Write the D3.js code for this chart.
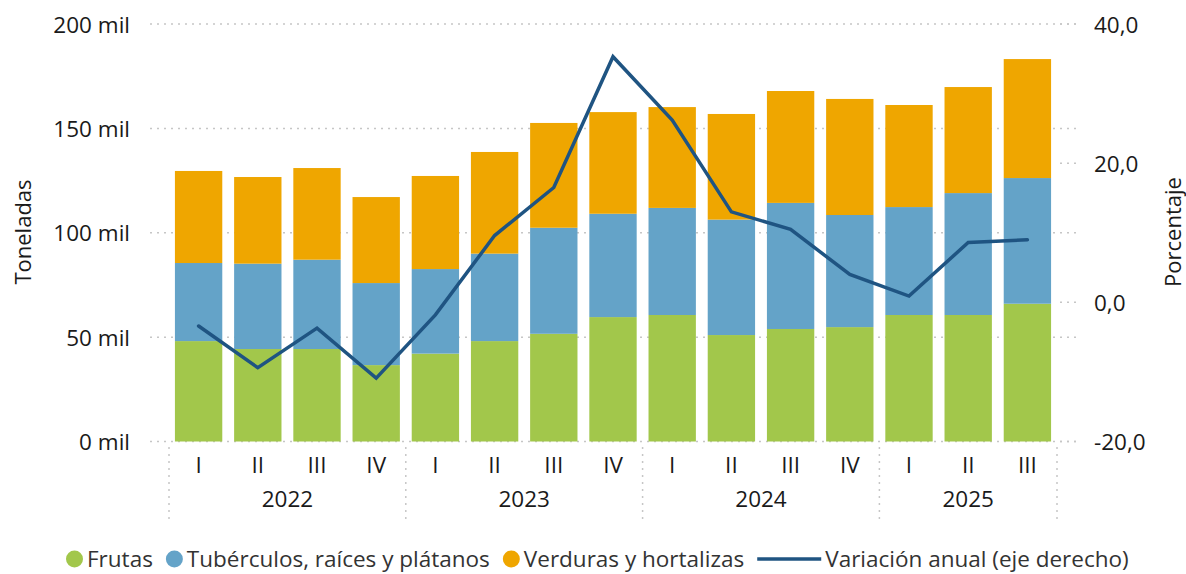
<!DOCTYPE html>
<html>
<head>
<meta charset="utf-8">
<script src="https://cdn.jsdelivr.net/npm/d3@7"></script>
<style>
  html, body { margin: 0; padding: 0; background: #fff; }
  svg { display: block; font-family: "Open Sans", "Noto Sans", sans-serif; }
</style>
</head>
<body>
<svg id="chart" width="1186" height="574"></svg>
<script>
// ---- Data (thousands of tonnes; percent) ----
const years = ["2022", "2023", "2024", "2025"];
const quarters = ["I","II","III","IV","I","II","III","IV","I","II","III","IV","I","II","III"];
const yearOfPoint = ["2022","2022","2022","2022","2023","2023","2023","2023","2024","2024","2024","2024","2025","2025","2025"];
const frutas     = [48.1, 44.3, 44.3, 36.6, 42.1, 48.1, 51.6, 59.6, 60.6, 51.0, 53.9, 54.8, 60.6, 60.6, 66.0];
const tuberculos = [37.4, 40.9, 42.8, 39.3, 40.5, 41.9, 50.8, 49.5, 51.3, 55.3, 60.4, 53.7, 51.7, 58.4, 60.2];
const verduras   = [44.1, 41.5, 43.9, 41.2, 44.6, 48.7, 50.2, 48.7, 48.3, 50.6, 53.6, 55.6, 48.9, 50.8, 57.0];
const variacion  = [-3.4, -9.4, -3.7, -10.9, -1.8, 9.6, 16.5, 35.3, 26.2, 13.0, 10.5, 4.0, 0.9, 8.6, 9.0];
const leftTicks = [0, 50, 100, 150, 200];
const rightTicks = [-20, 0, 20, 40];
const seriesNames = ["Frutas", "Tubérculos, raíces y plátanos", "Verduras y hortalizas"];
const lineName = "Variación anual (eje derecho)";
const leftTitle = "Toneladas";
const rightTitle = "Porcentaje";

const colors = ["#A2C74B", "#64A3C8", "#EFA600"];
const lineColor = "#1F5482";

const svg = d3.select("#chart");
const plot = { left: 169, right: 1057, top: 24, bottom: 441.5 };

const ids = quarters.map((q, i) => i);
const x = d3.scaleBand().domain(ids).range([plot.left, plot.right]).paddingInner(0.2).paddingOuter(0.1);
const yL = d3.scaleLinear().domain([0, 200]).range([plot.bottom, plot.top]);
const yR = d3.scaleLinear().domain([-20, 40]).range([plot.bottom, plot.top]);

const gridColor = "#c6c6c6";
const dash = "2,5";
const tickFont = 22.5;
const textColor = "#1a1a1a";

// Gridlines (left axis)
const gL = svg.append("g").attr("class", "left-axis");
gL.selectAll("line").data(leftTicks).join("line")
  .attr("x1", 150).attr("x2", 1076)
  .attr("y1", d => yL(d)).attr("y2", d => yL(d))
  .attr("stroke", gridColor).attr("stroke-width", 1.5).attr("stroke-dasharray", dash);
gL.selectAll("text").data(leftTicks).join("text")
  .attr("x", 130).attr("y", d => yL(d))
  .attr("text-anchor", "end").attr("dominant-baseline", "central")
  .attr("font-size", tickFont).attr("fill", textColor)
  .text(d => d + " mil");

// Right axis short ticks and labels
const gR = svg.append("g").attr("class", "right-axis");
gR.selectAll("line").data(rightTicks).join("line")
  .attr("x1", 1060).attr("x2", 1076)
  .attr("y1", d => yR(d)).attr("y2", d => yR(d))
  .attr("stroke", gridColor).attr("stroke-width", 1.5).attr("stroke-dasharray", dash);
gR.selectAll("text").data(rightTicks).join("text")
  .attr("x", 1094).attr("y", d => yR(d))
  .attr("text-anchor", "start").attr("dominant-baseline", "central")
  .attr("font-size", tickFont).attr("fill", textColor)
  .text(d => d3.format(".1f")(d).replace(".", ",").replace("\u2212", "-"));

// Axis titles
svg.append("text")
  .attr("transform", `translate(22, 232) rotate(-90)`)
  .attr("text-anchor", "middle").attr("dominant-baseline", "central")
  .attr("font-size", 22).attr("fill", textColor).text(leftTitle);
svg.append("text")
  .attr("transform", `translate(1172, 232) rotate(-90)`)
  .attr("text-anchor", "middle").attr("dominant-baseline", "central")
  .attr("font-size", 22).attr("fill", textColor).text(rightTitle);

// Stacked bars
const rows = ids.map(i => ({ i, frutas: frutas[i], tuberculos: tuberculos[i], verduras: verduras[i] }));
const stack = d3.stack().keys(["frutas", "tuberculos", "verduras"])(rows);
svg.append("g").selectAll("g").data(stack).join("g")
  .attr("fill", (d, k) => colors[k])
  .selectAll("rect").data(d => d).join("rect")
  .attr("x", d => x(d.data.i))
  .attr("width", x.bandwidth())
  .attr("y", d => yL(d[1]))
  .attr("height", d => yL(d[0]) - yL(d[1]));

// Line
const line = d3.line().x((d, i) => x(i) + x.bandwidth() / 2).y(d => yR(d));
svg.append("path").datum(variacion)
  .attr("d", line).attr("fill", "none")
  .attr("stroke", lineColor).attr("stroke-width", 3.5)
  .attr("stroke-linejoin", "miter").attr("stroke-linecap", "round");

// X axis: quarter labels
svg.append("g").selectAll("text").data(ids).join("text")
  .attr("x", i => x(i) + x.bandwidth() / 2).attr("y", 464)
  .attr("text-anchor", "middle").attr("dominant-baseline", "central")
  .attr("font-size", tickFont).attr("fill", textColor)
  .text(i => quarters[i]);

// Year groups
const yearInfo = years.map(y => {
  const idx = ids.filter(i => yearOfPoint[i] === y);
  const x0 = x(idx[0]) - x.step() * x.paddingInner() / 2;
  const x1 = x(idx[idx.length - 1]) + x.bandwidth() + x.step() * x.paddingInner() / 2;
  return { y, x0, x1 };
});
svg.append("g").selectAll("text").data(yearInfo).join("text")
  .attr("x", d => (d.x0 + d.x1) / 2).attr("y", 498)
  .attr("text-anchor", "middle").attr("dominant-baseline", "central")
  .attr("font-size", tickFont).attr("fill", textColor)
  .text(d => d.y);
const seps = yearInfo.map(d => d.x0).concat([yearInfo[yearInfo.length - 1].x1]);
svg.append("g").selectAll("line").data(seps).join("line")
  .attr("x1", d => d).attr("x2", d => d)
  .attr("y1", 447).attr("y2", 520)
  .attr("stroke", gridColor).attr("stroke-width", 1.5).attr("stroke-dasharray", dash);

// Legend
const legend = svg.append("g");
const items = [
  { name: seriesNames[0], type: "dot", color: colors[0] },
  { name: seriesNames[1], type: "dot", color: colors[1] },
  { name: seriesNames[2], type: "dot", color: colors[2] },
  { name: lineName, type: "line", color: lineColor }
];
let cx = 66;
const ly = 558;
items.forEach(it => {
  if (it.type === "dot") {
    legend.append("circle").attr("cx", cx + 8.5).attr("cy", ly + 1).attr("r", 8.5).attr("fill", it.color);
    cx += 21;
  } else {
    legend.append("line").attr("x1", cx).attr("x2", cx + 64).attr("y1", ly + 1).attr("y2", ly + 1)
      .attr("stroke", it.color).attr("stroke-width", 3.5);
    cx += 68;
  }
  const t = legend.append("text").attr("x", cx).attr("y", ly)
    .attr("dominant-baseline", "central").attr("font-size", 22.5).attr("fill", "#333")
    .text(it.name);
  cx += t.node().getComputedTextLength() + 13;
});
</script>
</body>
</html>
